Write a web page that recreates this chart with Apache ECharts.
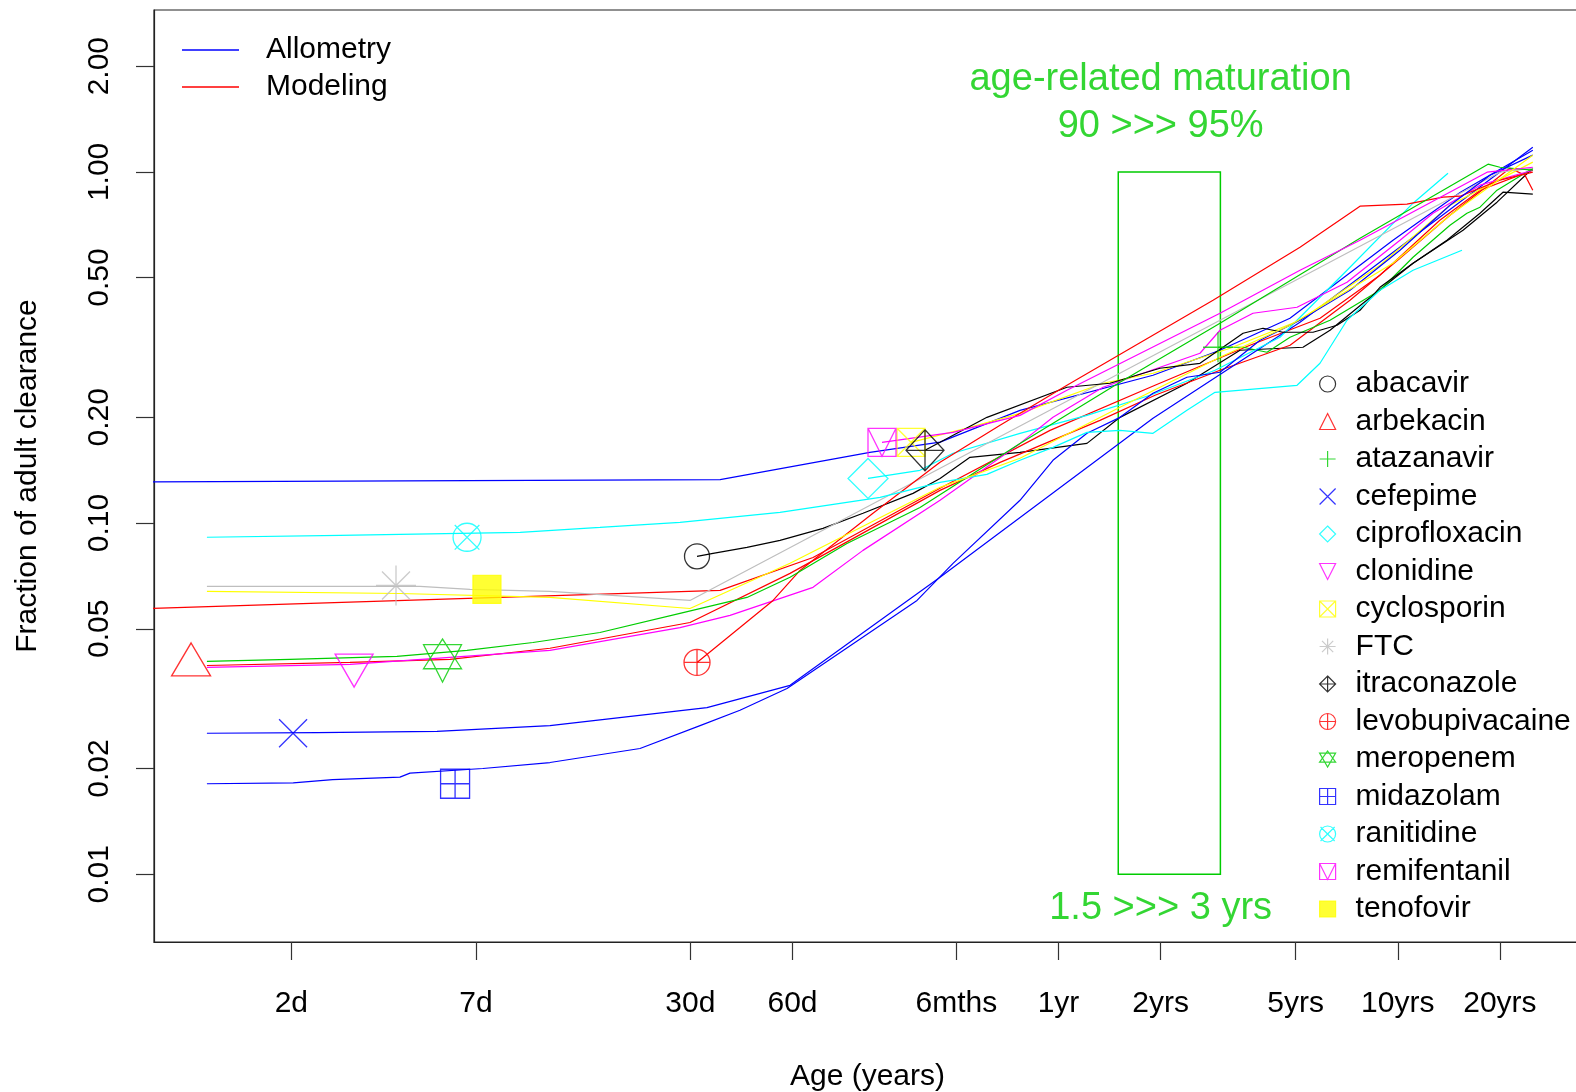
<!DOCTYPE html>
<html>
<head>
<meta charset="utf-8">
<script src="https://cdn.jsdelivr.net/npm/echarts@6/dist/echarts.min.js"></script>
<style>
html,body{margin:0;padding:0;background:#fff;}
#chart{width:1576px;height:1092px;}
</style>
</head>
<body>
<div id="chart"></div>
<script>
// ---------------- DATA (age in years, fraction of adult clearance) ----------------
const xTickValues = [2/365, 7/365, 30/365, 60/365, 0.5, 1, 2, 5, 10, 20];
const xTickLabels = ['2d', '7d', '30d', '60d', '6mths', '1yr', '2yrs', '5yrs', '10yrs', '20yrs'];
const yTickValues = [0.01, 0.02, 0.05, 0.1, 0.2, 0.5, 1, 2];
const yTickLabels = ['0.01', '0.02', '0.05', '0.10', '0.20', '0.50', '1.00', '2.00'];

const drugs = ['abacavir', 'arbekacin', 'atazanavir', 'cefepime', 'ciprofloxacin', 'clonidine',
  'cyclosporin', 'FTC', 'itraconazole', 'levobupivacaine', 'meropenem', 'midazolam',
  'ranitidine', 'remifentanil', 'tenofovir'];
const drugColors = ['#000000', '#FF0000', '#00CD00', '#0000FF', '#00FFFF', '#FF00FF',
  '#FFFF00', '#BEBEBE', '#000000', '#FF0000', '#00CD00', '#0000FF',
  '#00FFFF', '#FF00FF', '#FFFF00'];
const markerAge = [0.086, 0.002775, 2.952, 0.005545, 0.2745, 0.00839,
  0.3675, 0.01115, 0.4041, 0.086, 0.01529, 0.01665,
  0.01806, 0.3018, 0.02067];
const markerFraction = [0.0804, 0.0409, 0.3167, 0.0252, 0.134, 0.038,
  0.1698, 0.0664, 0.1611, 0.0401, 0.0406, 0.0181,
  0.0911, 0.1698, 0.0647];

const allometry = [[0.002,0.131],[0.1006,0.133],[0.278,0.159],[0.4475,0.170],[0.770,0.2094],[1.899,0.2635],[2.99,0.3105],[4.81,0.383],[9.68,0.639],[15.3,0.875],[25.0,1.153]];
const modeling = [[0.002,0.0570],[0.1006,0.0643],[0.189,0.0798],[0.4475,0.1256],[0.944,0.1836],[1.925,0.2468],[3.667,0.3208],[5.90,0.383],[8.86,0.508],[13.3,0.7285],[17.5,0.887],[25.0,1.011]];

const abacavirLine = [[0.086,0.0804],[0.0959,0.082],[0.1207,0.0853],[0.1511,0.0893],[0.2022,0.0966],[0.2653,0.1066],[0.3725,0.1215],[0.4475,0.134],[0.5484,0.1539],[0.770,0.159],[1.213,0.1686],[1.518,0.2],[2.391,0.2501],[3.427,0.3105],[5.255,0.3167],[6.313,0.354],[7.897,0.4225],[11.09,0.5493],[15.57,0.6822],[19.61,0.8199],[25.0,1.024]];
const arbekacinLine = [[0.00309,0.0393],[0.00816,0.0401],[0.01608,0.0409],[0.0317,0.044],[0.082,0.0521],[0.1617,0.0719],[0.4475,0.1239],[0.6725,0.1489],[1.325,0.1961],[1.925,0.2311],[2.992,0.2723],[4.813,0.3208],[7.23,0.4309],[10.15,0.5676],[14.25,0.7527],[21.4,1.024],[23.7,0.979],[25.0,0.887]];
const atazanavirLine = [[2.952,0.3167],[3.499,0.3167],[4.117,0.3065],[4.813,0.3381],[6.313,0.378],[8.861,0.4603],[11.09,0.5714],[14.25,0.7048],[15.99,0.7627],[17.47,0.7934],[19.61,0.8869],[25.0,1.024]];
const cefepimeLine = [[0.00309,0.0252],[0.00653,0.0253],[0.01472,0.0255],[0.0317,0.0265],[0.092,0.0298],[0.1617,0.0345],[0.4475,0.0701],[1.899,0.1987],[5.15,0.3731],[25.0,1.176]];
const ciprofloxacinLine = [[0.2745,0.134],[0.3906,0.1413],[0.4888,0.158],[0.770,0.1801],[1.213,0.2026],[1.861,0.2311],[2.893,0.2723],[4.497,0.3381],[7.085,0.5247],[11.09,0.8144],[14.06,0.9915]];
const clonidineLine = [[0.00309,0.0388],[0.00816,0.0396],[0.0317,0.0434],[0.0766,0.0504],[0.1076,0.0546],[0.189,0.0656],[0.2653,0.0836],[0.4475,0.1161],[0.770,0.1686],[0.963,0.2],[1.353,0.2436],[2.612,0.3045],[2.992,0.354],[3.743,0.3958],[5.047,0.4116],[7.085,0.485],[10.15,0.6389],[12.7,0.7627],[17.47,0.9165],[25.0,1.011]];
const cyclosporinLine = [[0.3675,0.1698],[0.5484,0.1873],[0.770,0.2053],[1.353,0.2501],[1.899,0.267],[3.203,0.3146],[5.15,0.378],[8.861,0.5422],[14.25,0.8038],[25.0,1.066]];
const ftcLine = [[0.00309,0.066],[0.01312,0.066],[0.01842,0.0647],[0.0317,0.0639],[0.082,0.0602],[20.0,0.998],[25.0,1.024]];
const itraconazoleLine = [[0.4041,0.1611],[0.6154,0.2],[1.059,0.2436],[1.418,0.2501],[1.991,0.2759],[2.612,0.285],[3.499,0.3471],[4.006,0.3587],[4.59,0.3494],[5.625,0.3494],[6.62,0.3658],[7.738,0.4036],[8.861,0.4692],[11.09,0.5493],[13.96,0.6389],[17.47,0.7627],[20.42,0.8754],[25.0,0.8639]];
const levobupivacaineLine = [[0.086,0.0401],[0.1151,0.0504],[0.1441,0.0602],[0.173,0.0733],[0.2839,0.1066],[0.4475,0.1489],[0.6725,0.1898],[1.059,0.2468],[2.854,0.4309],[5.15,0.6103],[7.738,0.7986],[10.64,0.8091],[13.59,0.847],[15.25,0.8526],[20.0,0.9471],[25.0,0.998]];
const meropenemLine = [[0.00309,0.0404],[0.00543,0.0409],[0.01122,0.0417],[0.01805,0.0434],[0.02824,0.0457],[0.0445,0.0488],[0.0766,0.0553],[0.1207,0.0614],[0.1617,0.0701],[0.2379,0.0875],[0.3906,0.1108],[0.770,0.1686],[1.518,0.2518],[2.992,0.3706],[7.738,0.6474],[18.45,1.052],[20.0,1.031],[25.0,1.011]];
const midazolamLine = [[0.00309,0.0181],[0.00555,0.0182],[0.00725,0.0186],[0.01145,0.0189],[0.01226,0.0194],[0.0201,0.02],[0.0317,0.0208],[0.0584,0.0228],[0.0878,0.0265],[0.1151,0.0293],[0.1584,0.0338],[0.3828,0.0602],[0.4888,0.0768],[0.770,0.1161],[0.963,0.1509],[1.213,0.1801],[1.518,0.2],[1.899,0.2342],[2.391,0.2601],[2.992,0.2688],[3.926,0.3315],[5.15,0.378],[7.23,0.4603],[10.15,0.5981],[14.25,0.8038],[18.7,0.9786],[25.0,1.116]];
const ranitidineLine = [[0.00309,0.0911],[0.00763,0.0923],[0.0259,0.0941],[0.0445,0.0972],[0.0766,0.1005],[0.151,0.1073],[0.298,0.1183],[0.4475,0.1306],[0.615,0.1376],[0.770,0.1509],[0.963,0.1643],[1.213,0.1812],[1.518,0.1836],[1.899,0.1801],[2.391,0.2094],[2.893,0.2357],[5.047,0.2468],[5.898,0.2851],[7.085,0.378],[8.861,0.4603],[11.09,0.5247],[15.46,0.5981]];
const remifentanilLine = [[0.3018,0.1698],[0.4888,0.1812],[0.770,0.2026],[1.059,0.2389],[2.992,0.3958],[5.15,0.5247],[7.738,0.6389],[18.33,0.998],[25.0,1.031]];
const tenofovirLine = [[0.00309,0.0639],[0.01145,0.063],[0.0317,0.0614],[0.082,0.0571],[0.1617,0.0768],[0.4475,0.1264],[0.770,0.1529],[1.518,0.2136],[2.992,0.2966],[4.813,0.3658],[9.678,0.5493],[14.25,0.7527],[25.0,1.116]];

const windowAge = [1.5, 3];
const windowFraction = [0.01, 1];
const annotationTexts = ['age-related maturation', '90 >>> 95%', '1.5 >>> 3 yrs'];
const annotationAge = [2, 2, 2];
const annotationFraction = [1.831, 1.345, 0.00801];

// ---------------- STYLE ----------------
const FONT = '"Liberation Sans", Arial, Helvetica, sans-serif';
const GREEN = '#00CC00';
const lg = Math.log10;
const toXY = pts => pts.map(p => [lg(p[0]), lg(p[1])]);

const drugLines = {
  abacavir: abacavirLine, arbekacin: arbekacinLine, atazanavir: atazanavirLine,
  cefepime: cefepimeLine, ciprofloxacin: ciprofloxacinLine, clonidine: clonidineLine,
  cyclosporin: cyclosporinLine, FTC: ftcLine, itraconazole: itraconazoleLine,
  levobupivacaine: levobupivacaineLine, meropenem: meropenemLine, midazolam: midazolamLine,
  ranitidine: ranitidineLine, remifentanil: remifentanilLine, tenofovir: tenofovirLine
};

const CIRCLE = 'M-1,0A1,1 0 1,0 1,0A1,1 0 1,0 -1,0Z';
const markerStyle = {
  abacavir: { symbol: 'circle', size: 25 },
  arbekacin: { symbol: 'triangle', size: [39, 33] },
  atazanavir: { symbol: 'path://M-1,0L1,0M0,-1L0,1', size: 30 },
  cefepime: { symbol: 'path://M-1,-1L1,1M-1,1L1,-1', size: 28 },
  ciprofloxacin: { symbol: 'diamond', size: 40 },
  clonidine: { symbol: 'path://M-1,-1L1,-1L0,1Z', size: [38, 33] },
  cyclosporin: { symbol: 'path://M-1,-1L1,-1L1,1L-1,1ZM-1,-1L1,1M-1,1L1,-1', size: 28 },
  FTC: { symbol: 'path://M-1,0L1,0M0,-1L0,1M-0.7,-0.7L0.7,0.7M-0.7,0.7L0.7,-0.7', size: 40 },
  itraconazole: { symbol: 'path://M0,-1L1,0L0,1L-1,0ZM-1,0L1,0M0,-1L0,1', size: [38, 41] },
  levobupivacaine: { symbol: 'path://' + CIRCLE + 'M-1,0L1,0M0,-1L0,1', size: 26 },
  meropenem: { symbol: 'path://M0,-1L1,0.38L-1,0.38ZM-1,-0.74L1,-0.74L0,1Z', size: [38, 43] },
  midazolam: { symbol: 'path://M-1,-1L1,-1L1,1L-1,1ZM-1,0L1,0M0,-1L0,1', size: 29 },
  ranitidine: { symbol: 'path://' + CIRCLE + 'M-0.88,-0.88L0.88,0.88M-0.88,0.88L0.88,-0.88', size: 28 },
  remifentanil: { symbol: 'path://M-1,-1L1,-1L1,1L-1,1ZM-1,-1L0,1L1,-1', size: 28 },
  tenofovir: { symbol: 'rect', size: 28, filled: true }
};

function tickFormatter(values, labels) {
  return function (v) {
    for (let i = 0; i < values.length; i++) {
      if (Math.abs(lg(values[i]) - v) < 1e-6) return labels[i];
    }
    return '';
  };
}

const series = [];
drugs.forEach((d, i) => {
  const st = markerStyle[d];
  series.push({
    type: 'scatter', name: d, silent: true, z: 4,
    symbol: st.symbol, symbolSize: st.size,
    itemStyle: { color: st.filled ? drugColors[i] : 'transparent', borderColor: drugColors[i], borderWidth: 1.3 },
    data: [[lg(markerAge[i]), lg(markerFraction[i])]]
  });
});
series.push({
  type: 'line', name: 'Allometry', data: toXY(allometry), symbol: 'none', showSymbol: false,
  lineStyle: { color: '#0000FF', width: 1.2 }, itemStyle: { color: '#0000FF' }, z: 2, silent: true
});
series.push({
  type: 'line', name: 'Modeling', data: toXY(modeling), symbol: 'none', showSymbol: false,
  lineStyle: { color: '#FF0000', width: 1.2 }, itemStyle: { color: '#FF0000' }, z: 2, silent: true
});
drugs.forEach((d, i) => {
  series.push({
    type: 'line', name: d, data: toXY(drugLines[d]), symbol: 'none', showSymbol: false,
    lineStyle: { color: drugColors[i], width: 1.2 }, itemStyle: { color: drugColors[i] }, z: 2, silent: true
  });
});
series.push({
  type: 'scatter', name: 'annotation', silent: true, z: 5,
  symbolSize: 1, itemStyle: { color: 'transparent' },
  label: { show: true, position: 'inside', color: GREEN, fontSize: 38, fontFamily: FONT, formatter: p => annotationTexts[p.dataIndex] },
  data: annotationAge.map((a, i) => [lg(a), lg(annotationFraction[i])]),
  markArea: {
    silent: true,
    itemStyle: { color: 'transparent', borderColor: GREEN, borderWidth: 1.5 },
    data: [[{ coord: [lg(windowAge[0]), lg(windowFraction[0])] }, { coord: [lg(windowAge[1]), lg(windowFraction[1])] }]]
  }
});

const chart = echarts.init(document.getElementById('chart'), null, { renderer: 'canvas' });
chart.setOption({
  animation: false,
  backgroundColor: '#ffffff',
  textStyle: { fontFamily: FONT },
  grid: { left: 154, right: -5, top: 10, bottom: 150, show: true, borderColor: '#222', borderWidth: 1.2, containLabel: false, outerBoundsMode: 'none' },
  xAxis: {
    type: 'value', min: -2.666, max: 1.540,
    axisLine: { show: true, onZero: false, lineStyle: { color: '#222', width: 1.2 } },
    axisTick: { show: true, length: 18, lineStyle: { color: '#333', width: 1.2 }, customValues: xTickValues.map(lg) },
    axisLabel: { show: true, customValues: xTickValues.map(lg), formatter: tickFormatter(xTickValues, xTickLabels), fontSize: 30, margin: 47, color: '#000', fontFamily: FONT },
    splitLine: { show: false },
    name: 'Age (years)', nameLocation: 'middle', nameGap: 120,
    nameTextStyle: { fontSize: 30, color: '#000', fontFamily: FONT }
  },
  yAxis: {
    type: 'value', min: -2.193, max: 0.461,
    axisLine: { show: true, onZero: false, lineStyle: { color: '#222', width: 1.2 } },
    axisTick: { show: true, length: 18, lineStyle: { color: '#333', width: 1.2 }, customValues: yTickValues.map(lg) },
    axisLabel: { show: true, customValues: yTickValues.map(lg), formatter: tickFormatter(yTickValues, yTickLabels), fontSize: 30, margin: 39, rotate: 90, color: '#000', fontFamily: FONT },
    splitLine: { show: false },
    name: 'Fraction of adult clearance', nameLocation: 'middle', nameGap: 111,
    nameTextStyle: { fontSize: 30, color: '#000', fontFamily: FONT }
  },
  legend: [
    {
      data: [{ name: 'Allometry', icon: 'rect' }, { name: 'Modeling', icon: 'rect' }],
      orient: 'vertical', left: 182, top: 35, padding: 0,
      itemWidth: 57, itemHeight: 1.5, itemGap: 7, selectedMode: false,
      itemStyle: { borderWidth: 0 },
      textStyle: { fontSize: 30, lineHeight: 30, color: '#000', fontFamily: FONT, padding: [0, 0, 0, 22] }
    },
    {
      data: drugs, orient: 'vertical', left: 1319, top: 369, padding: 0,
      itemWidth: 16, itemHeight: 16, itemGap: 7.5, selectedMode: false,
      itemStyle: { borderWidth: 1.2 },
      textStyle: { fontSize: 30, lineHeight: 30, color: '#000', fontFamily: FONT, padding: [0, 0, 0, 15] }
    }
  ],
  series: series
});
</script>
</body>
</html>
